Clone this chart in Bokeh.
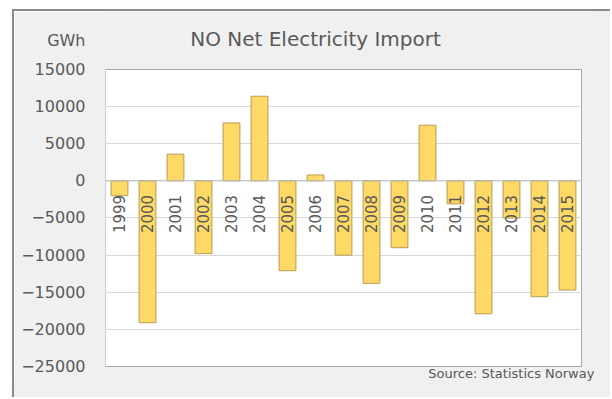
import math
from bokeh.plotting import figure
from bokeh.models import Label, Range1d, FixedTicker, ColumnDataSource, Grid
from bokeh.core.properties import value
from bokeh.embed import file_html
from bokeh.resources import INLINE

years = [1999, 2000, 2001, 2002, 2003, 2004, 2005, 2006, 2007, 2008,
         2009, 2010, 2011, 2012, 2013, 2014, 2015]
net_import = [-2000, -19100, 3600, -9800, 7800, 11400, -12100, 800, -10000, -13800,
              -9000, 7500, -3100, -17900, -5000, -15600, -14700]
year_labels = [str(y) for y in years]
y_ticks = [-25000, -20000, -15000, -10000, -5000, 0, 5000, 10000, 15000]
unit_label = "GWh"
title_text = "NO Net Electricity Import"
source_text = "Source: Statistics Norway"

FONT = "DejaVu Sans"
GRAY = "#595959"
BG = "#f0f0f0"
EDGE = "#8a8a8a"

x_lo, x_hi = min(years) - 0.5, max(years) + 0.5
y_lo, y_hi = min(y_ticks), max(y_ticks)
UNIT_POS = 18900  # position of the unit caption on the value axis

p = figure(width=582, height=372, output_backend="svg", toolbar_location=None,
           x_range=Range1d(x_lo, 2016.036), y_range=Range1d(-27290, 22811),
           min_border_left=91, min_border_top=0, min_border_right=0, min_border_bottom=0)
# the chart-area panel continues past the window edge (drawn as shadows, no overflow)
p.styles = {"margin-left": "12px", "margin-top": "9px",
            "border-left": f"2px solid {EDGE}", "border-top": f"2px solid {EDGE}",
            "box-shadow": (f"16px 16px 0 0 {BG}, 16px 2px 0 0 {BG}, 2px 16px 0 0 {BG}, "
                           f"16px 0 0 0 {EDGE}, 0 16px 0 0 {EDGE}")}
p.background_fill_color = BG
p.border_fill_color = BG
p.outline_line_color = None

p.xaxis.visible = False
p.xgrid.grid_line_color = None

# white plot area
p.quad(left=[x_lo], right=[x_hi], bottom=[y_lo], top=[y_hi],
       fill_color="white", line_color="#a6a6a6", line_width=1, level="image")

grid = p.ygrid[0]
grid.ticker = FixedTicker(ticks=y_ticks[1:-1])
grid.grid_line_color = "#d9d9d9"
if "cross_bounds" in Grid.properties():
    grid.cross_bounds = (x_lo, x_hi)
else:
    grid.grid_line_color = None
    inner = y_ticks[1:-1]
    p.segment(x0=[x_lo] * len(inner), x1=[x_hi] * len(inner), y0=inner, y1=inner,
              line_color="#d9d9d9", line_width=1, level="underlay")

ya = p.yaxis[0]
ya.ticker = FixedTicker(ticks=y_ticks + [UNIT_POS])
ya.major_label_overrides = {UNIT_POS: unit_label}
ya.axis_line_color = None
ya.major_tick_line_color = None
ya.minor_tick_line_color = None
ya.major_tick_out = 0
ya.major_label_standoff = 20
ya.major_label_text_font = FONT
ya.major_label_text_font_size = "16px"
ya.major_label_text_color = GRAY

src = ColumnDataSource(dict(x=years, top=net_import, label=year_labels,
                            zero=[0] * len(years)))
p.vbar(x="x", top="top", bottom=0, width=0.6, source=src,
       fill_color="#ffd966", line_color="#b89b52", line_width=1)

# zero line
p.segment(x0=[x_lo], x1=[x_hi], y0=[0], y1=[0], line_color="#bfbfbf", line_width=1)

p.text(x="x", y="zero", text="label", source=src, angle=math.pi / 2,
       text_align="right", text_baseline="middle", y_offset=14,
       text_font=value(FONT), text_font_size="15px", text_color=GRAY)

p.add_layout(Label(x=2006.0, y=19040, text=title_text,
                   text_align="center", text_baseline="middle",
                   text_font=FONT, text_font_size="20px", text_color=GRAY))
p.add_layout(Label(x=2015.96, y=-25900, text=source_text,
                   text_align="right", text_baseline="middle",
                   text_font=FONT, text_font_size="13px", text_color=GRAY))

open("out.html", "w").write(file_html(p, INLINE))
